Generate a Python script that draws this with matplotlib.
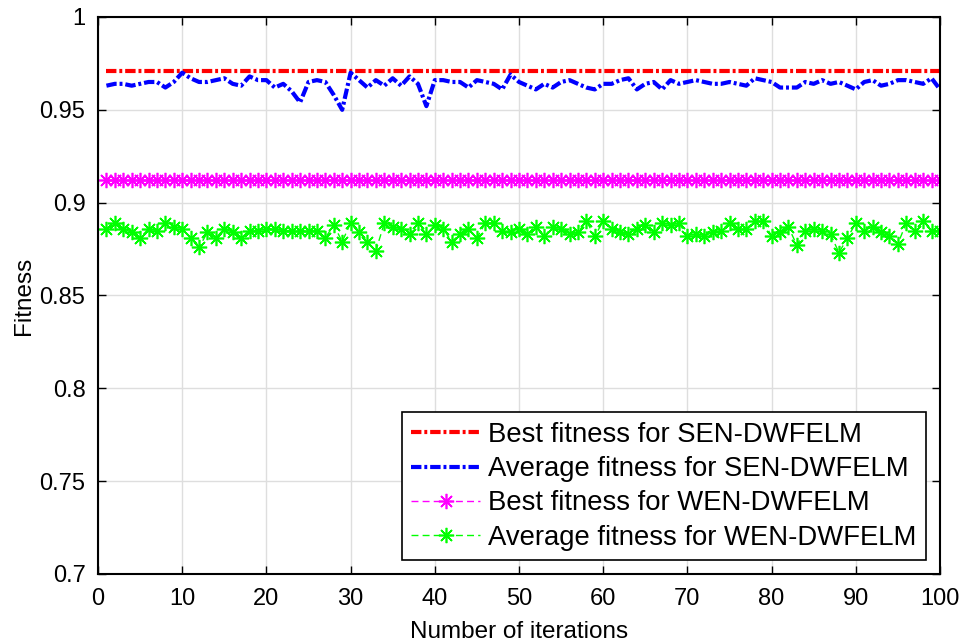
import numpy as np
import matplotlib.pyplot as plt

plt.rcParams['font.family'] = ['Liberation Sans', 'DejaVu Sans']

iterations = np.arange(1, 101)

best_sen = [0.971] * 100
best_wen = [0.912] * 100

avg_sen = [
    0.963, 0.964, 0.964, 0.963, 0.964, 0.965, 0.965, 0.962, 0.965, 0.970,
    0.967, 0.965, 0.965, 0.966, 0.967, 0.964, 0.963, 0.968, 0.966, 0.966,
    0.962, 0.964, 0.960, 0.954, 0.965, 0.966, 0.965, 0.958, 0.950, 0.970,
    0.966, 0.962, 0.966, 0.963, 0.967, 0.963, 0.968, 0.964, 0.952, 0.966,
    0.966, 0.965, 0.965, 0.962, 0.966, 0.965, 0.964, 0.961, 0.969, 0.965,
    0.963, 0.961, 0.964, 0.962, 0.965, 0.966, 0.964, 0.962, 0.961, 0.964,
    0.964, 0.966, 0.967, 0.961, 0.964, 0.965, 0.961, 0.966, 0.964, 0.965,
    0.966, 0.965, 0.964, 0.964, 0.965, 0.964, 0.963, 0.967, 0.966, 0.965,
    0.962, 0.962, 0.962, 0.965, 0.964, 0.966, 0.964, 0.965, 0.963, 0.961,
    0.965, 0.966, 0.963, 0.964, 0.966, 0.966, 0.965, 0.964, 0.967, 0.961,
]

avg_wen = [
    0.886, 0.889, 0.886, 0.884, 0.881, 0.886, 0.885, 0.889, 0.887, 0.886,
    0.881, 0.876, 0.884, 0.881, 0.886, 0.884, 0.881, 0.885, 0.885, 0.886,
    0.886, 0.885, 0.885, 0.885, 0.885, 0.885, 0.881, 0.888, 0.879, 0.889,
    0.884, 0.879, 0.874, 0.889, 0.887, 0.886, 0.883, 0.889, 0.883, 0.888,
    0.886, 0.879, 0.883, 0.886, 0.881, 0.889, 0.889, 0.885, 0.884, 0.886,
    0.883, 0.887, 0.882, 0.887, 0.886, 0.883, 0.884, 0.890, 0.882, 0.890,
    0.886, 0.884, 0.883, 0.886, 0.888, 0.884, 0.889, 0.888, 0.889, 0.882,
    0.883, 0.882, 0.884, 0.885, 0.889, 0.886, 0.886, 0.890, 0.890, 0.882,
    0.884, 0.887, 0.877, 0.885, 0.886, 0.885, 0.883, 0.873, 0.881, 0.889,
    0.885, 0.887, 0.884, 0.882, 0.878, 0.889, 0.885, 0.890, 0.885, 0.885,
]

# matlab-like asterisk marker
star = (8, 2, 0)

fig = plt.figure(figsize=(9.6, 6.44), dpi=100)
ax = fig.add_axes([98 / 960, 1 - 574 / 644, 842 / 960, 557 / 644])

ax.plot(iterations, best_sen, color='red', linewidth=3, dashes=(2.5, 0.7, 0.7, 0.7),
        label='Best fitness for SEN-DWFELM')
ax.plot(iterations, avg_sen, color='blue', linewidth=3, dashes=(2.5, 0.7, 0.7, 0.7),
        label='Average fitness for SEN-DWFELM')
ax.plot(iterations, best_wen, color='magenta', linewidth=1, dashes=(5, 3),
        marker=star, markersize=11, markeredgewidth=1.2,
        label='Best fitness for WEN-DWFELM')
ax.plot(iterations, avg_wen, color='#00ff00', linewidth=1, dashes=(5, 3),
        marker=star, markersize=11, markeredgewidth=1.2,
        label='Average fitness for WEN-DWFELM')

ax.set_xlim(0, 100)
ax.set_ylim(0.7, 1)
ax.set_xticks(np.arange(0, 101, 10))
ax.set_yticks([0.7, 0.75, 0.8, 0.85, 0.9, 0.95, 1])
ax.set_yticklabels(['0.7', '0.75', '0.8', '0.85', '0.9', '0.95', '1'])
ax.grid(True, color='#dedede', linewidth=1)
ax.set_axisbelow(True)
ax.tick_params(direction='in', top=True, right=True, labelsize=17,
               length=6, width=1, pad=10)
ax.tick_params(axis='y', pad=9)
for s in ax.spines.values():
    s.set_linewidth(1.5)

ax.set_xlabel('Number of iterations', fontsize=17.5, labelpad=8)
ax.set_ylabel('Fitness', fontsize=17.5, labelpad=3)

leg = ax.legend(loc='lower right', fontsize=19.8, frameon=True, fancybox=False,
                edgecolor='black', framealpha=1, handlelength=2.5,
                borderaxespad=0.5, borderpad=0.35, labelspacing=0.3,
                handletextpad=0.3)
leg.get_frame().set_linewidth(1.2)

fig.savefig('out.png', dpi=100)
